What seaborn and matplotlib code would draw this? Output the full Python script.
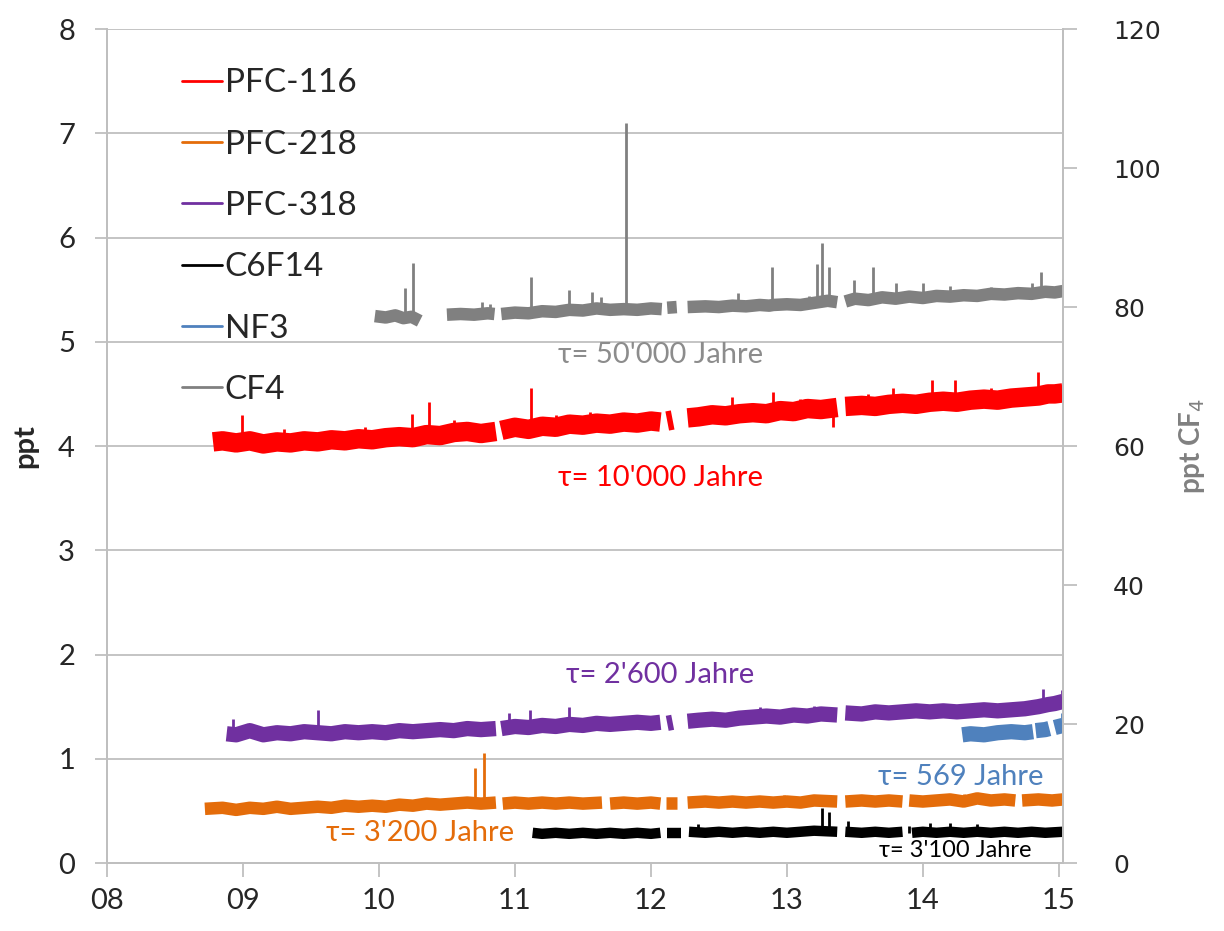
import numpy as np
import pandas as pd
import matplotlib
matplotlib.use('Agg')
import matplotlib.pyplot as plt
from matplotlib.lines import Line2D
import seaborn as sns

nan = np.nan

# years since 2000 (x), ppt (y); nan = gap in the record
pfc116_x = [8.78, 8.85, 8.95, 9.05, 9.15, 9.25, 9.35, 9.45, 9.55, 9.65, 9.75, 9.85, 9.95, 10.05, 10.15, 10.25, 10.35, 10.45, 10.55, 10.65, 10.75, 10.86, nan,
            10.90, 11.0, 11.1, 11.2, 11.3, 11.4, 11.5, 11.6, 11.7, 11.8, 11.9, 12.0, 12.07, nan,
            12.12, 12.16, nan,
            12.27, 12.35, 12.45, 12.55, 12.65, 12.75, 12.85, 12.95, 13.05, 13.15, 13.25, 13.37, nan,
            13.43, 13.55, 13.65, 13.75, 13.85, 13.95, 14.05, 14.15, 14.25, 14.35, 14.45, 14.55, 14.65, 14.75, 14.85, 14.92, 14.97, 15.03]
pfc116_y = [4.04, 4.05, 4.03, 4.05, 4.02, 4.04, 4.03, 4.05, 4.04, 4.06, 4.05, 4.07, 4.06, 4.08, 4.09, 4.08, 4.11, 4.10, 4.13, 4.14, 4.12, 4.14, nan,
            4.15, 4.18, 4.16, 4.19, 4.18, 4.21, 4.20, 4.22, 4.21, 4.23, 4.22, 4.24, 4.23, nan,
            4.24, 4.25, nan,
            4.27, 4.28, 4.30, 4.29, 4.31, 4.32, 4.31, 4.34, 4.33, 4.36, 4.35, 4.37, nan,
            4.38, 4.39, 4.38, 4.40, 4.41, 4.40, 4.42, 4.43, 4.42, 4.44, 4.45, 4.44, 4.46, 4.47, 4.48, 4.50, 4.50, 4.51]
pfc116_spikes = [(8.99, 4.30), (9.30, 4.16), (9.90, 4.18), (10.24, 4.31), (10.37, 4.42), (10.55, 4.25),
                 (11.12, 4.56), (11.30, 4.30), (11.55, 4.33), (12.60, 4.47), (12.90, 4.52), (13.10, 4.45),
                 (13.34, 4.18), (13.60, 4.50), (13.78, 4.56), (14.07, 4.63), (14.24, 4.63), (14.50, 4.56),
                 (14.85, 4.71)]

pfc318_x = [8.88, 8.95, 9.05, 9.15, 9.25, 9.35, 9.45, 9.55, 9.65, 9.75, 9.85, 9.95, 10.05, 10.15, 10.25, 10.35, 10.45, 10.55, 10.65, 10.75, 10.86, nan,
            10.90, 11.0, 11.1, 11.2, 11.3, 11.4, 11.5, 11.6, 11.7, 11.8, 11.9, 12.0, 12.07, nan,
            12.12, 12.16, nan,
            12.27, 12.35, 12.45, 12.55, 12.65, 12.75, 12.85, 12.95, 13.05, 13.15, 13.25, 13.37, nan,
            13.43, 13.55, 13.65, 13.75, 13.85, 13.95, 14.05, 14.15, 14.25, 14.35, 14.45, 14.55, 14.65, 14.75, 14.85, 14.92, 14.97, 15.03]
pfc318_y = [1.24, 1.23, 1.27, 1.23, 1.25, 1.24, 1.26, 1.25, 1.24, 1.26, 1.25, 1.26, 1.25, 1.27, 1.26, 1.27, 1.28, 1.27, 1.29, 1.28, 1.29, nan,
            1.29, 1.31, 1.30, 1.32, 1.31, 1.33, 1.32, 1.34, 1.33, 1.34, 1.35, 1.34, 1.35, nan,
            1.34, 1.35, nan,
            1.36, 1.37, 1.38, 1.37, 1.39, 1.40, 1.41, 1.40, 1.42, 1.41, 1.43, 1.42, nan,
            1.44, 1.43, 1.45, 1.44, 1.45, 1.46, 1.45, 1.46, 1.45, 1.46, 1.47, 1.46, 1.47, 1.48, 1.50, 1.52, 1.53, 1.55]
pfc318_spikes = [(8.93, 1.38), (9.55, 1.47), (10.96, 1.44), (11.11, 1.47), (11.40, 1.50), (12.80, 1.50),
                 (13.20, 1.51), (14.88, 1.67), (15.02, 1.66)]

pfc218_x = [8.72, 8.85, 8.95, 9.05, 9.15, 9.25, 9.35, 9.45, 9.55, 9.65, 9.75, 9.85, 9.95, 10.05, 10.15, 10.25, 10.35, 10.45, 10.55, 10.65, 10.75, 10.86, nan,
            10.91, 11.0, 11.1, 11.2, 11.3, 11.4, 11.5, 11.64, nan,
            11.70, 11.8, 11.9, 12.0, 12.07, nan,
            12.11, 12.19, nan,
            12.27, 12.4, 12.5, 12.6, 12.7, 12.8, 12.9, 13.0, 13.1, 13.2, 13.37, nan,
            13.43, 13.55, 13.65, 13.75, 13.85, nan,
            13.90, 14.0, 14.1, 14.2, 14.3, 14.4, 14.5, 14.6, 14.68, nan,
            14.73, 14.85, 14.95, 15.03]
pfc218_y = [0.52, 0.53, 0.51, 0.53, 0.52, 0.54, 0.52, 0.53, 0.54, 0.53, 0.55, 0.54, 0.55, 0.54, 0.56, 0.55, 0.57, 0.56, 0.57, 0.58, 0.57, 0.58, nan,
            0.57, 0.58, 0.57, 0.58, 0.57, 0.58, 0.57, 0.58, nan,
            0.57, 0.58, 0.57, 0.58, 0.57, nan,
            0.58, 0.58, nan,
            0.58, 0.59, 0.58, 0.59, 0.58, 0.59, 0.58, 0.59, 0.58, 0.60, 0.59, nan,
            0.59, 0.60, 0.59, 0.60, 0.59, nan,
            0.60, 0.59, 0.60, 0.61, 0.59, 0.62, 0.60, 0.61, 0.60, nan,
            0.60, 0.61, 0.60, 0.61]
pfc218_spikes = [(10.71, 0.91), (10.77, 1.06), (12.98, 0.65), (14.30, 0.66)]

c6f14_x = [11.13, 11.2, 11.3, 11.4, 11.5, 11.6, 11.7, 11.8, 11.9, 12.0, 12.07, nan,
           12.12, 12.22, nan,
           12.28, 12.4, 12.5, 12.6, 12.7, 12.8, 12.9, 13.0, 13.1, 13.2, 13.37, nan,
           13.43, 13.55, 13.65, 13.75, 13.85, nan,
           13.92, 14.0, 14.1, 14.2, 14.3, 14.4, 14.5, 14.6, 14.7, 14.8, 14.9, 15.03]
c6f14_y = [0.29, 0.28, 0.29, 0.28, 0.29, 0.28, 0.29, 0.28, 0.29, 0.28, 0.29, nan,
           0.29, 0.29, nan,
           0.30, 0.29, 0.30, 0.29, 0.30, 0.29, 0.30, 0.29, 0.30, 0.31, 0.30, nan,
           0.30, 0.29, 0.30, 0.29, 0.30, nan,
           0.29, 0.30, 0.29, 0.30, 0.29, 0.30, 0.29, 0.30, 0.29, 0.30, 0.29, 0.30]
c6f14_spikes = [(12.35, 0.37), (13.26, 0.53), (13.31, 0.49), (13.45, 0.40), (13.90, 0.36),
                (14.05, 0.38), (14.20, 0.38), (14.40, 0.37)]

nf3_x = [14.29, 14.35, 14.45, 14.55, 14.65, 14.75, 14.81, nan, 14.83, 14.90, 14.93, nan, 14.97, 15.03]
nf3_y = [1.23, 1.24, 1.23, 1.25, 1.26, 1.25, 1.26, nan, 1.27, 1.28, 1.29, nan, 1.30, 1.32]
nf3_spikes = [(15.02, 1.44)]

# CF4 in ppt on the right axis
cf4_x = [9.97, 10.05, 10.12, 10.18, 10.24, 10.30, nan,
         10.50, 10.6, 10.7, 10.8, 10.85, nan,
         10.90, 11.0, 11.1, 11.2, 11.3, 11.4, 11.5, 11.6, 11.7, 11.8, 11.9, 12.0, 12.08, nan,
         12.12, 12.19, nan,
         12.27, 12.4, 12.5, 12.6, 12.7, 12.8, 12.87, 12.9, 13.0, 13.1, 13.2, 13.3, 13.37, nan,
         13.43, 13.5, 13.6, 13.7, 13.8, 13.9, 14.0, 14.1, 14.2, 14.3, 14.4, 14.5, 14.6, 14.7, 14.8, 14.9, 14.97, 15.03]
cf4_y = [78.7, 78.5, 78.8, 78.4, 78.6, 78.0, nan,
         78.9, 79.0, 78.9, 79.1, 79.0, nan,
         79.0, 79.2, 79.1, 79.4, 79.3, 79.6, 79.5, 79.8, 79.6, 79.7, 79.6, 79.8, 79.7, nan,
         79.9, 80.0, nan,
         80.0, 80.1, 80.0, 80.2, 80.1, 80.3, 80.2, 80.3, 80.4, 80.3, 80.6, 80.9, 80.7, nan,
         80.8, 81.2, 81.0, 81.4, 81.2, 81.5, 81.3, 81.6, 81.5, 81.7, 81.6, 81.9, 81.8, 82.0, 81.9, 82.2, 82.1, 82.3]
cf4_spikes = [(10.19, 82.7), (10.25, 86.4), (10.76, 80.7), (10.82, 80.5), (11.12, 84.3), (11.40, 82.4),
              (11.57, 82.2), (11.63, 81.5), (11.82, 106.5), (12.64, 82.0), (12.89, 85.7), (13.16, 81.6),
              (13.22, 86.2), (13.26, 89.2), (13.31, 85.7), (13.49, 83.9), (13.63, 85.7), (13.80, 83.5),
              (14.00, 83.4), (14.20, 83.0), (14.50, 82.9), (14.80, 83.5), (14.87, 85.0), (15.03, 84.0)]

year_ticks = [8, 9, 10, 11, 12, 13, 14, 15]
year_labels = ['08', '09', '10', '11', '12', '13', '14', '15']


def to_df(xs, ys):
    seg, rows = 0, []
    for x, y in zip(xs, ys):
        if np.isnan(x):
            seg += 1
            continue
        rows.append((x, y, seg))
    return pd.DataFrame(rows, columns=['year', 'ppt', 'seg'])


def draw(ax, xs, ys, spikes, color, lw):
    df = to_df(xs, ys)
    sns.lineplot(data=df, x='year', y='ppt', units='seg', estimator=None, color=color,
                 linewidth=lw, solid_joinstyle='round', solid_capstyle='butt', ax=ax, legend=False)
    for sx, top in spikes:
        base = np.interp(sx, df['year'], df['ppt'])
        ax.vlines(sx, base, top, color=color, linewidth=2)


sns.set_theme(style='white')
plt.rcParams['font.family'] = ['Lato', 'DejaVu Sans']

fig = plt.figure(figsize=(12.24, 9.31), dpi=100)
ax = fig.add_axes([0.0874, 0.073, 0.781, 0.8958])
ax2 = ax.twinx()

C = {'PFC-116': '#ff0000', 'PFC-218': '#e46c0a', 'PFC-318': '#7030a0',
     'C6F14': '#000000', 'NF3': '#4f81bd', 'CF4': '#808080'}

draw(ax, pfc218_x, pfc218_y, pfc218_spikes, C['PFC-218'], 9)
draw(ax, c6f14_x, c6f14_y, c6f14_spikes, C['C6F14'], 7.5)
draw(ax, pfc318_x, pfc318_y, pfc318_spikes, C['PFC-318'], 11)
draw(ax, nf3_x, nf3_y, nf3_spikes, C['NF3'], 11)
draw(ax, pfc116_x, pfc116_y, pfc116_spikes, C['PFC-116'], 14)
draw(ax2, cf4_x, cf4_y, cf4_spikes, C['CF4'], 9)

ax.set_xlim(8, 15.03)
ax.set_ylim(0, 8)
ax2.set_ylim(0, 120)
ax.set_xticks(year_ticks)
ax.set_xticklabels(year_labels)
ax.set_yticks(range(0, 9))
ax2.set_yticks(range(0, 121, 20))
ax2.set_yticklabels([str(v) for v in range(0, 121, 20)], fontfamily='DejaVu Sans')
ax.yaxis.grid(True, color='#bfbfbf', linewidth=1.3)
ax.set_axisbelow(True)
for a in (ax, ax2):
    a.spines['top'].set_visible(False)
    for s in ('left', 'right', 'bottom'):
        a.spines[s].set_color('#bfbfbf')
        a.spines[s].set_linewidth(1.3)
ax.tick_params(axis='y', length=9, width=1.3, color='#bfbfbf', pad=14, labelsize=21, left=True)
ax.tick_params(axis='x', length=10, width=1.3, color='#bfbfbf', pad=8, labelsize=21, bottom=True)
ax2.tick_params(axis='y', length=10, width=1.3, color='#bfbfbf', pad=26, labelsize=18, right=True)
ax.set_xlabel('')
ax.set_ylabel('ppt', fontsize=21, fontweight='bold', labelpad=14)
ax2.set_ylabel('ppt CF$_4$', fontsize=20, fontweight='bold', color='#808080', labelpad=12)

handles = [Line2D([], [], color=C[k], linewidth=2) for k in C]
ax.legend(handles, list(C), loc='upper left', bbox_to_anchor=(0.078, 0.953), frameon=False,
          fontsize=24, borderpad=0, borderaxespad=0, handlelength=1.2, handletextpad=0.1,
          labelspacing=0.94)

fs = 21
ax.text(12.07, 4.87, "τ= 50'000 Jahre", color='#8c8c8c', fontsize=fs, ha='center', va='center')
ax.text(12.07, 3.69, "τ= 10'000 Jahre", color=C['PFC-116'], fontsize=fs, ha='center', va='center')
ax.text(12.07, 1.80, "τ= 2'600 Jahre", color=C['PFC-318'], fontsize=fs, ha='center', va='center')
ax.text(14.28, 0.83, "τ= 569 Jahre", color=C['NF3'], fontsize=fs, ha='center', va='center')
ax.text(10.30, 0.29, "τ= 3'200 Jahre", color=C['PFC-218'], fontsize=fs, ha='center', va='center')
ax.text(14.24, 0.12, "τ= 3'100 Jahre", color='black', fontsize=17, ha='center', va='center')

fig.savefig('out.png', dpi=100)
